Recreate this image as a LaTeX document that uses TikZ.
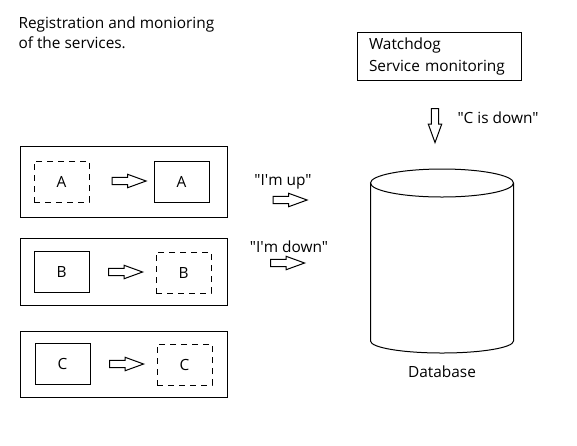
\documentclass[tikz,border=0pt]{standalone}
\usepackage{fontspec}
\newfontfamily\uifont{Open Sans}
\usetikzlibrary{shapes.arrows}
\begin{document}
\begin{tikzpicture}[x=1pt,y=-1pt,line width=1pt,
    every node/.style={font=\uifont\fontsize{15.4}{20}\selectfont},
    frame/.style={draw,minimum width=207pt},
    svc/.style={draw,minimum width=55pt,minimum height=41pt},
    svcoff/.style={svc,dash pattern=on 6pt off 5pt},
    fat/.style={draw,single arrow,single arrow head extend=3pt,single arrow tip angle=40,
      inner sep=0pt,text height=3.2pt,text depth=3.2pt,minimum height=34pt}]
      \useasboundingbox (0,0) rectangle (577,445);
      \node (title) [anchor=west,align=left,inner sep=0pt] at (18,33) {Registration and monioring\\of the services.};
      \node (watchdog) [draw,align=left,text width=140pt,inner xsep=12pt,minimum height=48pt,
        font=\uifont\fontsize{15.4}{22}\selectfont] at (439,56) {Watchdog\\Service monitoring};
      \node (frmA) [frame,minimum height=71pt] at (123.5,181.5) {};
      \node (frmB) [frame,minimum height=67pt] at (123.5,272) {};
      \node (frmC) [frame,minimum height=66pt] at (124,364) {};
      \node (a1) [svcoff] at (61.5,181.5) {A};
      \node (a2) [svc] at (181.5,181.5) {A};
      \node (b1) [svc] at (61.5,272) {B};
      \node (b2) [svcoff] at (183.5,272.5) {B};
      \node (c1) [svc] at (62.5,363.5) {C};
      \node (c2) [svcoff] at (184.5,364.5) {C};
      \node (fa) [fat] at (124,181) {};
      \node (fb) [fat] at (120.5,272) {};
      \node (fc) [fat] at (121.5,364) {};
      \node (up) at (283,182) {"I\textquotesingle m up"};
      \node (fup) [fat] at (285,200) {};
      \node (down) at (289,247) {"I\textquotesingle m down"};
      \node (fdown) [fat] at (282.5,263) {};
      \node (fwd) [fat,rotate=-90] at (435,120.5) {};
      \node (cdown) at (498,118) {"C is down"};
      \draw (442,183) ellipse [x radius=71.5,y radius=14];
      \draw (370.5,183) -- (370.5,341) arc [start angle=180,end angle=0,x radius=71.5,y radius=12] -- (513.5,183);
      \node (db) at (442,372) {Database};
    \end{tikzpicture}
\end{document}
